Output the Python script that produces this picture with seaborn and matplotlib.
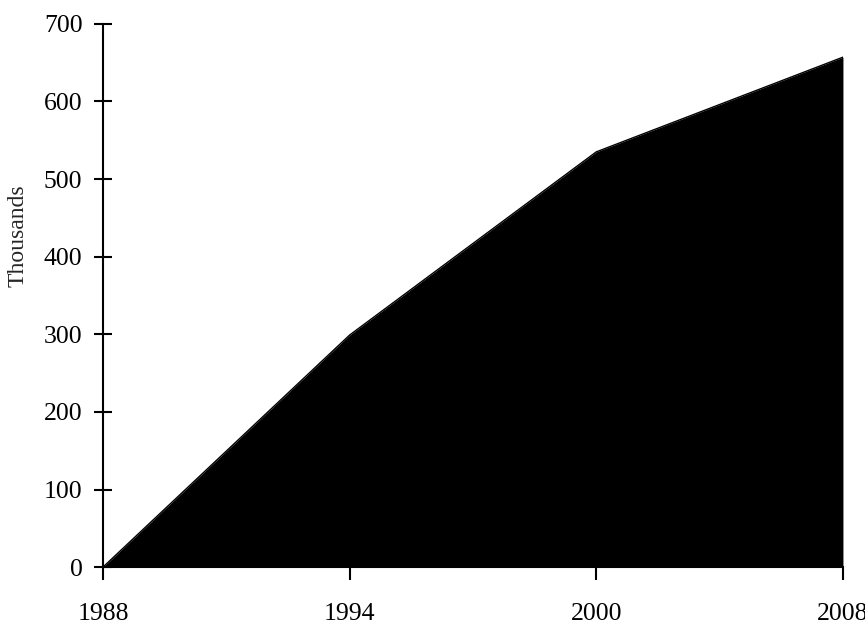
import pandas as pd
import seaborn as sns
import matplotlib.pyplot as plt

years = ['1988', '1994', '2000', '2008']
thousands = [0, 299, 535, 657]

df = pd.DataFrame({'year': years, 'thousands': thousands})
df['pos'] = range(len(years))

sns.set_style('white')
plt.rcParams['font.family'] = ['Liberation Serif', 'DejaVu Serif']

fig = plt.figure(figsize=(8.65, 6.26), dpi=100)
ax = fig.add_axes([0.119, 0.094, 0.8555, 0.868])

sns.lineplot(data=df, x='pos', y='thousands', color='black', linewidth=1, ax=ax)
ax.fill_between(df['pos'], df['thousands'], 0, color='black', linewidth=0)

ax.set_xlim(0, len(years) - 1)
ax.set_ylim(0, 700)
ax.set_xticks(df['pos'])
ax.set_xticklabels(years)
ax.set_yticks(range(0, 701, 100))
ax.set_xlabel('')
ax.set_ylabel('Thousands', fontsize=17)
ax.yaxis.set_label_coords(-0.1, 0.61)

sns.despine(ax=ax, top=True, right=True)
for s in ['left', 'bottom']:
    ax.spines[s].set_color('black')
    ax.spines[s].set_linewidth(1.5)
ax.spines['left'].set_zorder(5)

ax.tick_params(axis='y', direction='inout', length=13.5, width=1.5, pad=8,
               labelsize=18.5, colors='black', left=True)
ax.tick_params(axis='x', direction='out', length=9.5, width=1.5, pad=16,
               labelsize=18.5, colors='black', bottom=True)

fig.savefig('out.png', dpi=100)
